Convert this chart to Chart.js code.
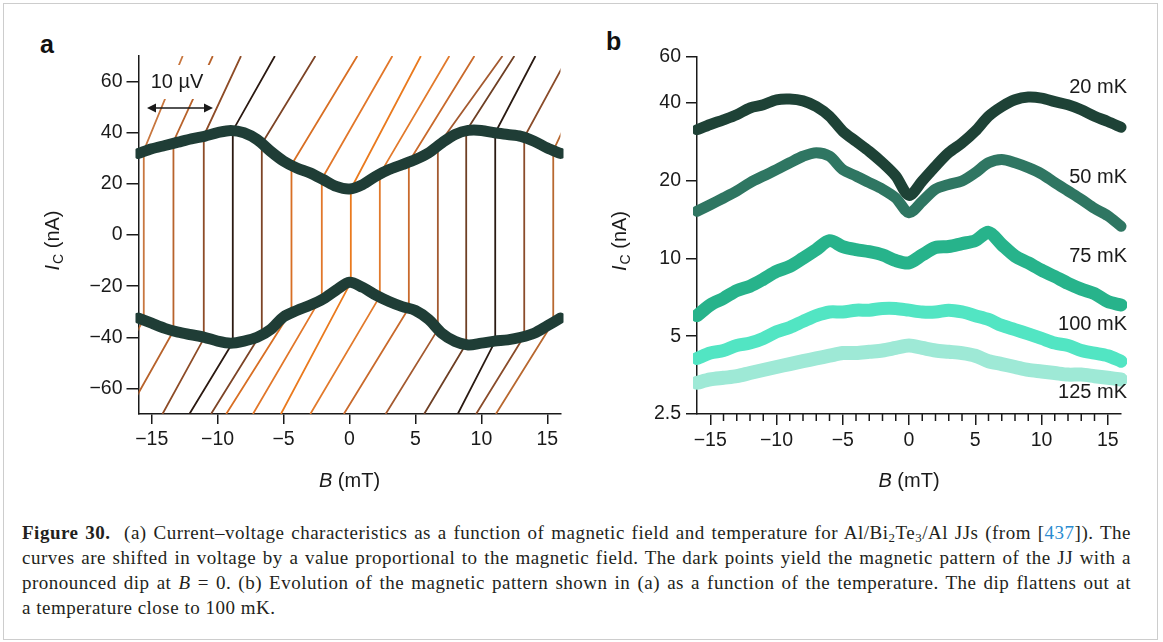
<!DOCTYPE html>
<html>
<head>
<meta charset="UTF-8">
<title>Figure 30</title>
<script src="https://cdn.jsdelivr.net/npm/chart.js@4"></script>
<style>
  body { margin:0; background:#fff; width:1163px; height:642px; position:relative; overflow:hidden;
         font-family:"Liberation Sans", Arial, sans-serif; }
  .frame { position:absolute; left:3px; top:3px; width:1155px; height:637px; border:1.5px solid #cdcdcd; box-sizing:border-box; }
  #wrapA { position:absolute; left:0; top:0; width:580px; height:500px; }
  #wrapB { position:absolute; left:580px; top:0; width:580px; height:500px; }
  .panel { position:absolute; font-weight:bold; font-size:25px; color:#111; }
  .cap { position:absolute; left:22px; width:1109px; font-family:"Liberation Serif","DejaVu Serif",serif;
         font-size:19px; line-height:22px; letter-spacing:0.5px; color:#231f20; }
  .just { text-align:justify; text-align-last:justify; }
  .cap sub { font-size:0.68em; vertical-align:-0.2em; line-height:0; }
  .ref { color:#2a8bd0; }
</style>
</head>
<body>
<div class="frame"></div>
<div class="panel" style="left:40px;top:30px">a</div>
<div class="panel" style="left:606px;top:27px">b</div>
<div id="wrapA"><canvas id="chartA" width="580" height="500"></canvas></div>
<div id="wrapB"><canvas id="chartB" width="580" height="500"></canvas></div>

<div class="cap just" style="top:522px"><b>Figure 30.</b>&nbsp; (a) Current–voltage characteristics as a function of magnetic field and temperature for Al/Bi<sub>2</sub>Te<sub>3</sub>/Al JJs (from [<span class="ref">437</span>]). The</div>
<div class="cap just" style="top:547px">curves are shifted in voltage by a value proportional to the magnetic field. The dark points yield the magnetic pattern of the JJ with a</div>
<div class="cap just" style="top:572px">pronounced dip at <i>B</i> = 0. (b) Evolution of the magnetic pattern shown in (a) as a function of the temperature. The dip flattens out at</div>
<div class="cap" style="top:597px">a temperature close to 100 mK.</div>

<script>
// ---------- data ----------
// magnetic field samples (mT)
const bField = [-16,-15,-14,-13,-12,-11,-10,-9,-8,-7,-6,-5,-4,-3,-2,-1,0,1,2,3,4,5,6,7,8,9,10,11,12,13,14,15,16];

// panel a: critical current (dark points), nA
const icUpper = [31.9,33.7,35,36.3,37.6,38.6,40,40.9,40,37.3,32.8,28.9,26.2,24.3,21.7,19,18,19.7,23,25.6,27.5,29.5,32.1,36,39.3,40.9,40.9,40,39.3,38.6,36.7,34,31.9];
const icLower = [-32.5,-34.5,-36.5,-38,-39,-40,-41.5,-42.3,-41.5,-40,-37,-32,-29.5,-27.5,-25,-21.5,-18.5,-20.5,-23.5,-26,-28,-29.5,-33,-38.4,-41.6,-43,-42.3,-41.5,-41,-40,-38.4,-35.5,-32.5];

// panel a: I-V curves (shifted in voltage), position of supercurrent branch and where resistive branches hit top/bottom
const ivB     = [-15.6,-13.35,-11.05,-8.85,-6.65,-4.4,-2.1,0.1,2.3,4.5,6.7,8.85,11.05,13.25,15.45];
const ivIcUp  = [33,36.5,38.8,40.8,35.7,27.5,21.9,18,23.8,28.5,34.9,40.7,40,38.2,33];
const ivIcDn  = [-33,-37.5,-40.5,-42,-38,-29.5,-24,-18.5,-24,-28.5,-37,-42.5,-41.5,-39.5,-34];
const ivTopB  = [-12.65,-10.37,-8.23,-5.66,-2.59,0.59,3.25,5.41,7.57,9.47,11.6,12.5,14.1,16.6,18.8];
const ivBotB  = [-19.6,-16.9,-14.18,-12.14,-10.5,-9.35,-7.32,-5.2,-2.97,-0.43,2.74,5.66,8.21,9.6,11.1];
const ivColor = ['#c8773f','#b8632c','#8e4c27','#2b1911','#7d4426','#d86f24','#e2772a','#ea7a1e','#e27a2c','#c96a2c','#a45a30','#6e3f24','#2a1a12','#8a4c2a','#b86830'];
const ivTopI = 70, ivBotI = -70;

// panel b: Ic vs B at several temperatures (nA)
const temps   = ['20 mK','50 mK','75 mK','100 mK','125 mK'];
const ic20  = [31.4,32.9,34.3,35.9,38.1,39.2,41,41.3,40.6,38.6,35.4,31,28.3,25.9,23.4,20.8,17.5,19.9,22.7,25.6,27.9,31,35.4,38.6,41,42,41.6,40.3,39.2,37.5,35.4,33.8,32.1];
const ic50  = [15.2,16.1,17.1,18.2,19.6,20.8,22,23.4,24.8,25.6,24.8,22,20.8,19.6,18.5,17.1,15,16.6,18.5,19.3,19.9,21.4,23.4,24.1,23.4,22.4,21.2,19.6,18.2,16.9,15.6,14.6,13.3];
const ic75  = [6.0,6.6,7.0,7.5,7.8,8.3,8.9,9.3,10,10.8,11.7,11.1,10.8,10.6,10.3,9.8,9.6,10.3,11,11.1,11.4,11.7,12.6,11.3,10.2,9.6,9.0,8.5,8.0,7.6,7.3,6.8,6.6];
const ic100 = [4.1,4.3,4.4,4.6,4.7,4.9,5.2,5.4,5.7,6.0,6.2,6.2,6.3,6.3,6.4,6.4,6.3,6.2,6.2,6.3,6.2,6.0,5.8,5.5,5.3,5.1,4.9,4.7,4.6,4.4,4.3,4.2,4.0];
const ic125 = [3.3,3.4,3.45,3.5,3.6,3.7,3.8,3.9,4.0,4.1,4.2,4.3,4.3,4.35,4.4,4.5,4.6,4.5,4.4,4.35,4.3,4.2,4.0,3.9,3.8,3.7,3.65,3.6,3.55,3.55,3.5,3.45,3.4];
const tempColors = ['#1e4236','#2f7662','#27b38b','#52e5c3','#9ee9d6'];
const tempWidths = [11,11,13,13,14];
const tempLabelAt = [45.7,20.5,10.2,5.56,3.04];

// ticks
const xTicks  = [-15,-10,-5,0,5,10,15];
const xMinor  = [-14,-13,-12,-11,-9,-8,-7,-6,-4,-3,-2,-1,1,2,3,4,6,7,8,9,11,12,13,14];
const yTicksA = [-60,-40,-20,0,20,40,60];
const yTicksB = [2.5,5,10,20,40,60];

// ---------- helpers ----------
const ink = '#1a1a1a';
const tickFont = { family:'"Liberation Sans", Arial, sans-serif', size:19.5 };
const fmt = v => v < 0 ? '\u2212' + Math.abs(v) : String(v);
const pts = (xs, ys) => xs.map((x, i) => ({ x:x, y:ys[i] }));

function drawTitles(chart, yTitleX) {
  const ctx = chart.ctx, a = chart.chartArea;
  ctx.save();
  ctx.fillStyle = ink;
  ctx.textBaseline = 'alphabetic';
  // x title: B (mT)
  ctx.font = 'italic 20px "Liberation Sans", Arial, sans-serif';
  const w1 = ctx.measureText('B').width;
  ctx.font = '20px "Liberation Sans", Arial, sans-serif';
  const w2 = ctx.measureText(' (mT)').width;
  let x0 = (a.left + a.right) / 2 - (w1 + w2) / 2;
  ctx.font = 'italic 20px "Liberation Sans", Arial, sans-serif';
  ctx.fillText('B', x0, 487);
  ctx.font = '20px "Liberation Sans", Arial, sans-serif';
  ctx.fillText(' (mT)', x0 + w1, 487);
  // y title: I_C (nA), rotated
  ctx.translate(yTitleX, (a.top + a.bottom) / 2 + 6);
  ctx.rotate(-Math.PI / 2);
  ctx.font = 'italic 20px "Liberation Sans", Arial, sans-serif';
  const u1 = ctx.measureText('I').width;
  ctx.font = '14px "Liberation Sans", Arial, sans-serif';
  const u2 = ctx.measureText('C').width;
  ctx.font = '20px "Liberation Sans", Arial, sans-serif';
  const u3 = ctx.measureText(' (nA)').width;
  let s = -(u1 + u2 + u3) / 2;
  ctx.font = 'italic 20px "Liberation Sans", Arial, sans-serif';
  ctx.fillText('I', s, 7);
  ctx.font = '14px "Liberation Sans", Arial, sans-serif';
  ctx.fillText('C', s + u1 + 1, 11);
  ctx.font = '20px "Liberation Sans", Arial, sans-serif';
  ctx.fillText(' (nA)', s + u1 + u2 + 1, 7);
  ctx.restore();
}

function axisX(ticks, len) {
  return {
    type:'linear', min:-16, max:16,
    afterBuildTicks: s => { s.ticks = ticks.map(v => ({ value:v })); },
    afterFit: s => { s.height = 86; },
    grid: { drawOnChartArea:false, drawTicks:true, tickLength:len, color:ink, lineWidth:1.5 },
    border: { display:true, color:ink, width:1.5 },
    ticks: { color:ink, font:tickFont, padding:4, maxRotation:0, autoSkip:false, callback: v => fmt(v) }
  };
}

// ---------- panel a ----------
const bandStyle = { borderColor:'#1f3d36', borderWidth:11, pointRadius:0, tension:0.3,
                    borderCapStyle:'round', borderJoinStyle:'round', clip:{left:3,right:3,top:0,bottom:0} };
const dsA = [];
dsA.push(Object.assign({ data: pts(bField, icUpper) }, bandStyle));
dsA.push(Object.assign({ data: pts(bField, icLower) }, bandStyle));
ivB.forEach((b, i) => {
  dsA.push({
    data: [ { x:ivBotB[i], y:ivBotI }, { x:b, y:ivIcDn[i] }, { x:b, y:ivIcUp[i] }, { x:ivTopB[i], y:ivTopI } ],
    borderColor: ivColor[i], borderWidth:1.8, pointRadius:0, tension:0
  });
});

const annotA = {
  id:'annotA',
  afterDatasetsDraw(chart) {
    const ctx = chart.ctx;
    ctx.save();
    ctx.fillStyle = '#fff';
    ctx.fillRect(141, 65, 74, 34);
    ctx.fillStyle = ink;
    ctx.font = '20px "Liberation Sans", Arial, sans-serif';
    ctx.textAlign = 'center';
    ctx.textBaseline = 'middle';
    ctx.fillText('10 \u00b5V', 177, 82);
    ctx.strokeStyle = ink; ctx.lineWidth = 1.6;
    ctx.beginPath(); ctx.moveTo(149, 108); ctx.lineTo(210, 108); ctx.stroke();
    ctx.beginPath(); ctx.moveTo(147, 108); ctx.lineTo(156, 103.5); ctx.lineTo(156, 112.5); ctx.closePath(); ctx.fill();
    ctx.beginPath(); ctx.moveTo(213, 108); ctx.lineTo(204, 103.5); ctx.lineTo(204, 112.5); ctx.closePath(); ctx.fill();
    ctx.restore();
  },
  afterDraw(chart) { drawTitles(chart, 52); }
};

new Chart(document.getElementById('chartA'), {
  type:'scatter',
  data:{ datasets: dsA },
  options:{
    responsive:false, animation:false, showLine:true,
    layout:{ padding:{ left:0, right:19.5, top:56, bottom:0 } },
    plugins:{ legend:{ display:false }, tooltip:{ enabled:false } },
    scales:{
      x: axisX(xTicks, 10),
      y: {
        type:'linear', min:-70, max:70,
        afterBuildTicks: s => { s.ticks = yTicksA.map(v => ({ value:v })); },
        afterFit: s => { s.width = 138.5; },
        grid:{ drawOnChartArea:false, drawTicks:true, tickLength:12, color:ink, lineWidth:1.5 },
        border:{ display:true, color:ink, width:1.5 },
        ticks:{ color:ink, font:tickFont, padding:4, callback: v => fmt(v) }
      }
    }
  },
  plugins:[annotA]
});

// ---------- panel b ----------
const series = [ic20, ic50, ic75, ic100, ic125];
const dsB = series.map((vals, i) => ({
  label: temps[i], data: pts(bField, vals),
  borderColor: tempColors[i], backgroundColor: tempColors[i], borderWidth: tempWidths[i],
  pointRadius: 0, tension: 0.3, borderCapStyle:'round', borderJoinStyle:'round',
  clip:{ left:4, right:6, top:0, bottom:0 }
}));

const annotB = {
  id:'annotB',
  afterDraw(chart) {
    const ctx = chart.ctx, xs = chart.scales.x, ys = chart.scales.y;
    ctx.save();
    ctx.strokeStyle = ink; ctx.lineWidth = 1.5;
    xMinor.forEach(v => {
      const px = xs.getPixelForValue(v);
      ctx.beginPath(); ctx.moveTo(px, ys.bottom); ctx.lineTo(px, ys.bottom + 7); ctx.stroke();
    });
    ctx.fillStyle = ink;
    ctx.font = '20px "Liberation Sans", Arial, sans-serif';
    ctx.textAlign = 'right';
    ctx.textBaseline = 'middle';
    temps.forEach((t, i) => ctx.fillText(t, xs.right + 6, ys.getPixelForValue(tempLabelAt[i])));
    ctx.restore();
    drawTitles(chart, 39);
  }
};

new Chart(document.getElementById('chartB'), {
  type:'scatter',
  data:{ datasets: dsB },
  options:{
    responsive:false, animation:false, showLine:true,
    layout:{ padding:{ left:0, right:39, top:57, bottom:0 } },
    plugins:{ legend:{ display:false }, tooltip:{ enabled:false } },
    scales:{
      x: axisX(xTicks, 11),
      y: {
        type:'logarithmic', min:2.5, max:60,
        afterBuildTicks: s => { s.ticks = yTicksB.map(v => ({ value:v })); },
        afterFit: s => { s.width = 117; },
        grid:{ drawOnChartArea:false, drawTicks:true, tickLength:11, color:ink, lineWidth:1.5 },
        border:{ display:true, color:ink, width:1.5 },
        ticks:{ color:ink, font:tickFont, padding:5, callback: v => String(v) }
      }
    }
  },
  plugins:[annotB]
});
</script>
</body>
</html>
